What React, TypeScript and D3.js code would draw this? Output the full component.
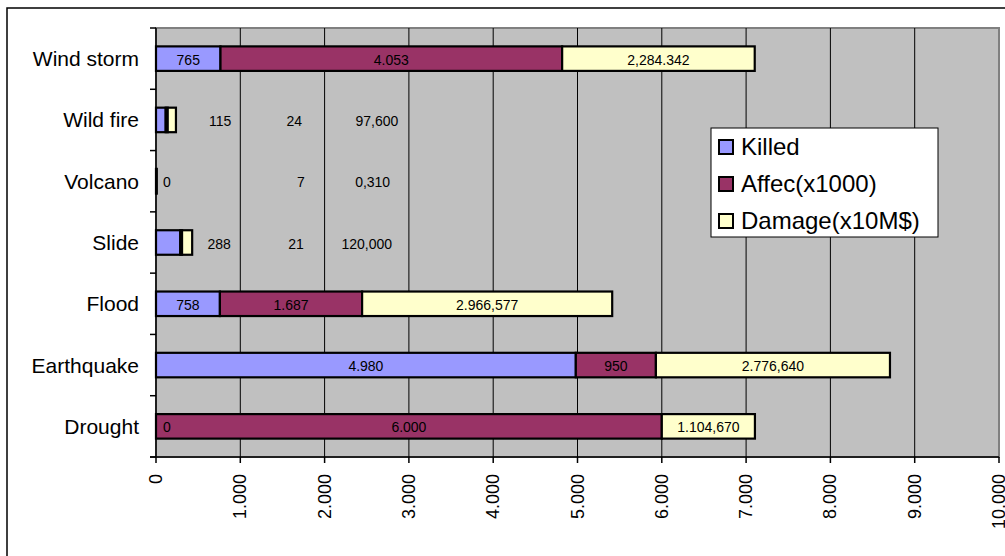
import { useEffect, useRef } from 'react';
import * as d3 from 'd3';

// categories, bottom to top as in the chart
const categories = ['Drought', 'Earthquake', 'Flood', 'Slide', 'Volcano', 'Wild fire', 'Wind storm'];

const killed = [0, 4980, 758, 288, 0, 115, 765];
const affected = [6000, 950, 1687, 21, 7, 24, 4053];
const damage = [1104.67, 2776.64, 2966.577, 120, 0.31, 97.6, 2284.342];

// labels as printed on the chart
const killedText = ['0', '4.980', '758', '288', '0', '115', '765'];
const affectedText = ['6.000', '950', '1.687', '21', '7', '24', '4.053'];
const damageText = ['1.104,670', '2.776,640', '2.966,577', '120,000', '0,310', '97,600', '2,284.342'];

const seriesNames = ['Killed', 'Affec(x1000)', 'Damage(x10M$)'];
const xTicks = [0, 1000, 2000, 3000, 4000, 5000, 6000, 7000, 8000, 9000, 10000];
const xTickText = ['0', '1.000', '2.000', '3.000', '4.000', '5.000', '6.000', '7.000', '8.000', '9.000', '10.000'];

export default function App() {
  const chartRef = useRef<SVGSVGElement>(null);

  useEffect(() => {
    if (!chartRef.current) return;
    const svg = d3.select(chartRef.current);
    svg.selectAll('*').remove();

    const W = 1005;
    const H = 556;
    const font = 'Arial, "Liberation Sans", sans-serif';
    const colors = ['#9999FF', '#993366', '#FFFFCC'];
    const plot = { left: 156, right: 999, top: 28, bottom: 457 };

    svg.append('rect').attr('width', W).attr('height', H).attr('fill', '#fff');
    // outer chart border (right/bottom fall outside the picture)
    svg.append('rect')
      .attr('x', 7).attr('y', 8).attr('width', 1010).attr('height', 560)
      .attr('fill', 'none').attr('stroke', '#000').attr('stroke-width', 1.5);

    const x = d3.scaleLinear().domain([0, 10000]).range([plot.left, plot.right]);
    const y = d3.scaleBand()
      .domain([...categories].reverse())
      .range([plot.top, plot.bottom])
      .paddingInner(0.6)
      .paddingOuter(0.3);
    const band = (plot.bottom - plot.top) / categories.length;

    // plot area
    svg.append('rect')
      .attr('x', plot.left).attr('y', plot.top)
      .attr('width', plot.right - plot.left).attr('height', plot.bottom - plot.top)
      .attr('fill', '#C0C0C0').attr('stroke', '#808080').attr('stroke-width', 2);

    // gridlines
    svg.selectAll('.grid')
      .data(xTicks.slice(1, -1))
      .enter()
      .append('line')
      .attr('x1', d => x(d)).attr('x2', d => x(d))
      .attr('y1', plot.top).attr('y2', plot.bottom)
      .attr('stroke', '#000').attr('stroke-width', 1);

    // stacked bars
    const table = categories.map((c, i) => ({
      cat: c, killed: killed[i], affected: affected[i], damage: damage[i],
    }));
    const stack = d3.stack<any>().keys(['killed', 'affected', 'damage'])(table);
    stack.forEach((layer, si) => {
      svg.append('g')
        .selectAll('rect')
        .data(layer)
        .enter()
        .append('rect')
        .attr('x', d => x(d[0]))
        .attr('width', d => Math.max(0, x(d[1]) - x(d[0])))
        .attr('y', d => y(d.data.cat)!)
        .attr('height', y.bandwidth())
        .attr('fill', colors[si])
        .attr('stroke', '#000')
        .attr('stroke-width', 2.2);
    });

    // data labels: inside the segment, except for the tiny bars Excel moved aside
    const texts = [killedText, affectedText, damageText];
    const moved: Record<string, number[]> = {
      'Slide': [750, 1660, 2500],
      'Volcano': [130, 1720, 2570],
      'Wild fire': [760, 1640, 2620],
    };
    stack.forEach((layer, si) => {
      layer.forEach((d, i) => {
        const cat = categories[i];
        let cx: number;
        if (moved[cat]) cx = x(moved[cat][si]);
        else if (d[1] - d[0] === 0) cx = x(d[0] + 130);
        else cx = (x(d[0]) + x(d[1])) / 2;
        svg.append('text')
          .attr('x', cx)
          .attr('y', y(cat)! + y.bandwidth() / 2 + 1)
          .attr('text-anchor', 'middle')
          .attr('dominant-baseline', 'central')
          .style('font-family', font)
          .style('font-size', '14px')
          .attr('fill', '#000')
          .text(texts[si][i]);
      });
    });

    // y axis
    svg.append('line')
      .attr('x1', plot.left).attr('x2', plot.left)
      .attr('y1', plot.top).attr('y2', plot.bottom)
      .attr('stroke', '#000').attr('stroke-width', 1.5);
    d3.range(categories.length + 1).forEach(k => {
      svg.append('line')
        .attr('x1', plot.left - 6).attr('x2', plot.left)
        .attr('y1', plot.top + k * band).attr('y2', plot.top + k * band)
        .attr('stroke', '#000').attr('stroke-width', 1.5);
    });
    svg.selectAll('.cat')
      .data(categories)
      .enter()
      .append('text')
      .attr('x', plot.left - 17)
      .attr('y', d => y(d)! + y.bandwidth() / 2)
      .attr('text-anchor', 'end')
      .attr('dominant-baseline', 'central')
      .style('font-family', font)
      .style('font-size', '21px')
      .text(d => d);

    // x axis
    svg.append('line')
      .attr('x1', plot.left - 6).attr('x2', plot.right)
      .attr('y1', plot.bottom).attr('y2', plot.bottom)
      .attr('stroke', '#000').attr('stroke-width', 1.5);
    xTicks.forEach((t, i) => {
      svg.append('line')
        .attr('x1', x(t)).attr('x2', x(t))
        .attr('y1', plot.bottom).attr('y2', plot.bottom + 6)
        .attr('stroke', '#000').attr('stroke-width', 1.5);
      svg.append('text')
        .attr('transform', `translate(${x(t)},474) rotate(-90)`)
        .attr('text-anchor', 'end')
        .attr('dominant-baseline', 'central')
        .style('font-family', font)
        .style('font-size', '18px')
        .text(xTickText[i]);
    });

    // legend
    const lg = svg.append('g').attr('transform', 'translate(711,128)');
    lg.append('rect')
      .attr('width', 227).attr('height', 109)
      .attr('fill', '#fff').attr('stroke', '#000').attr('stroke-width', 1);
    seriesNames.forEach((name, i) => {
      const cy = 19 + i * 37;
      lg.append('rect')
        .attr('x', 8).attr('y', cy - 7).attr('width', 14).attr('height', 14)
        .attr('fill', colors[i]).attr('stroke', '#000').attr('stroke-width', 2);
      lg.append('text')
        .attr('x', 30).attr('y', cy + 8)
        .style('font-family', font)
        .style('font-size', '24px')
        .text(name);
    });
  }, []);

  return (
    <svg
      ref={chartRef}
      width={1005}
      height={556}
      style={{ position: 'absolute', left: 0, top: 0 }}
    />
  );
}
